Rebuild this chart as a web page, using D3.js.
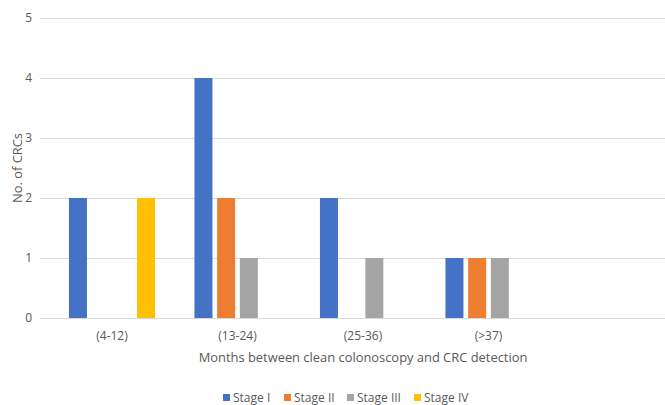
<!DOCTYPE html>
<html><head><meta charset="utf-8">
<script src="https://cdn.jsdelivr.net/npm/d3@7"></script>
<style>body{margin:0;background:#fff;} text{font-family:"Open Sans","Liberation Sans",sans-serif;fill:#595959;}</style>
</head><body><svg id="c" width="665" height="405"></svg>
<script>
const categories = ["(4-12)", "(13-24)", "(25-36)", "(>37)", ""];
const seriesNames = ["Stage I", "Stage II", "Stage III", "Stage IV"];
const stageI = [2, 4, 2, 1, null];
const stageII = [0, 2, 0, 1, null];
const stageIII = [0, 1, 1, 1, null];
const stageIV = [2, 0, 0, 0, null];
const yTicks = [0, 1, 2, 3, 4, 5];
const colors = ["#4472C4", "#ED7D31", "#A5A5A5", "#FFC000"];
const seriesValues = [stageI, stageII, stageIII, stageIV];

const svg = d3.select("#c");
const gridLeft = 40, gridRight = 665;
const y = d3.scaleLinear().domain([0, 5]).range([318, 18]);
const x0 = d3.scaleBand().domain(categories).range([49.25, 676.75]).paddingInner(0).paddingOuter(0);
const inner = 86.1, off = (x0.bandwidth() - inner) / 2;
const x1 = d3.scaleBand().domain(seriesNames).range([off, off + inner]).paddingInner(0.207).paddingOuter(0);

// gridlines
svg.append("g").selectAll("line").data(yTicks).join("line")
  .attr("x1", gridLeft).attr("x2", gridRight)
  .attr("y1", d => y(d) + 0.5).attr("y2", d => y(d) + 0.5)
  .attr("stroke", "#D9D9D9").attr("stroke-width", 1);

// y axis labels
const yAxis = d3.axisLeft(y).tickValues(yTicks).tickFormat(d3.format("d")).tickSize(0).tickPadding(0);
const ga = svg.append("g").attr("transform", `translate(32,0)`).call(yAxis);
ga.select(".domain").remove();
ga.selectAll("text").style("font-size", "12px").attr("fill", "#595959").style("font-family", "'Open Sans',sans-serif");

// bars
const groups = svg.append("g").selectAll("g").data(categories).join("g")
  .attr("transform", d => `translate(${x0(d)},0)`);
groups.selectAll("rect").data((d, i) => seriesNames.map((s, j) => ({s, v: seriesValues[j][i], c: colors[j]})).filter(e => e.v))
  .join("rect")
  .attr("x", d => x1(d.s)).attr("width", x1.bandwidth())
  .attr("y", d => y(d.v)).attr("height", d => y(0) - y(d.v))
  .attr("fill", d => d.c);

// x axis labels
const xAxis = d3.axisBottom(x0).tickSize(0).tickPadding(0);
const gx = svg.append("g").attr("transform", `translate(0,331)`).call(xAxis);
gx.select(".domain").remove();
gx.selectAll("text").style("font-size", "12px").attr("fill", "#595959").style("font-family", "'Open Sans',sans-serif");

// axis titles
svg.append("text").attr("x", 363).attr("y", 362).attr("text-anchor", "middle")
  .style("font-size", "12.9px").text("Months between clean colonoscopy and CRC detection");
svg.append("text").attr("transform", "translate(22,168) rotate(-90)").attr("text-anchor", "middle")
  .style("font-size", "12.9px").text("No. of CRCs");

// legend
const legX = [223, 284, 347, 414];
const lg = svg.append("g").selectAll("g").data(seriesNames).join("g")
  .attr("transform", (d, i) => `translate(${legX[i]},398)`);
lg.append("rect").attr("x", 0).attr("y", -4).attr("width", 7).attr("height", 7).attr("fill", (d, i) => colors[i]);
lg.append("text").attr("x", 10).attr("y", 4).style("font-size", "12px").text(d => d);
</script></body></html>
